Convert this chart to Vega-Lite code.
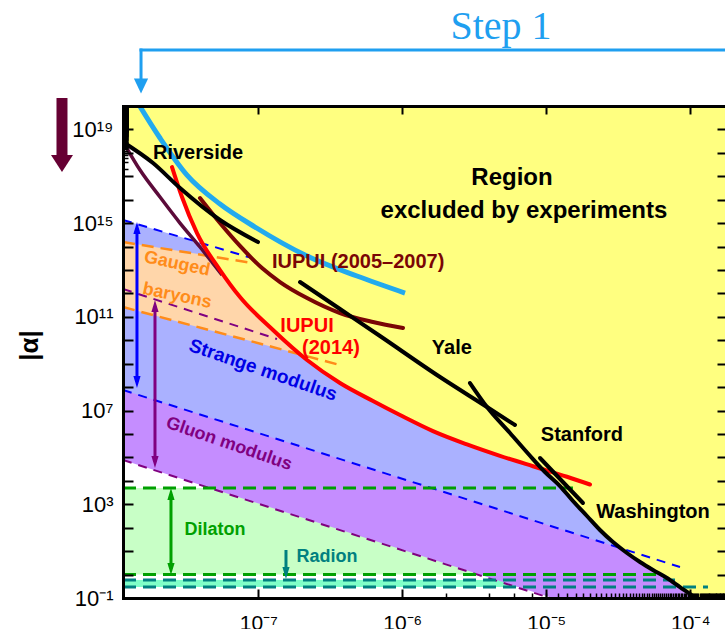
{
  "$schema": "https://vega.github.io/schema/vega-lite/v6.json",
  "width": 604,
  "height": 492,
  "autosize": {"type": "none"},
  "padding": {"left": 123, "top": 106, "right": 0, "bottom": 31},
  "background": "white",
  "config": {"view": {"stroke": null}, "axis": {"grid": false}},
  "datasets": {
    "green": [{"x": 1.15e-8, "y": 1, "y2": 4950}, {"x": 1.8e-4, "y": 1, "y2": 4950}],
    "teal": [{"x": 1.15e-8, "y": 0.294, "y2": 0.586}, {"x": 1.8e-4, "y": 0.294, "y2": 0.586}],
    "purple": [{"x": 1.15e-8, "y": 7.76e4, "y2": 1.54e12}, {"x": 1.8e-4, "y": 4.07e-4, "y2": 5740}],
    "blue": [{"x": 1.15e-8, "y": 7.54e7, "y2": 1.36e15}, {"x": 1.8e-4, "y": 0.482, "y2": 3.44e7}],
    "orange": [{"x": 1.15e-8, "y": 2.63e11, "y2": 1.56e14}, {"x": 9.645e-7, "y": 1.83e8, "y2": 2.07e12}],
    "yellow": [
      {"x": 1.1e-8, "y": 3.53e18}, {"x": 1.15e-8, "y": 2.9e18}, {"x": 1.858e-8, "y": 3.68e17},
      {"x": 2.815e-8, "y": 3.48e16}, {"x": 2.954e-8, "y": 1.44e16}, {"x": 3.754e-8, "y": 3.79e14},
      {"x": 5.423e-8, "y": 9.98e12}, {"x": 7.466e-8, "y": 7.03e11}, {"x": 1.266e-7, "y": 2.74e10},
      {"x": 2.181e-7, "y": 1.44e9}, {"x": 3.694e-7, "y": 1.5e8}, {"x": 6.261e-7, "y": 2.56e7},
      {"x": 9.645e-7, "y": 6.46e6}, {"x": 1.634e-6, "y": 1.33e6}, {"x": 2.815e-6, "y": 3.6e5},
      {"x": 4.772e-6, "y": 1.17e5}, {"x": 8.089e-6, "y": 4.2e4}, {"x": 9.048e-6, "y": 3.6e4},
      {"x": 9.799e-6, "y": 2.39e4}, {"x": 1.246e-5, "y": 6030}, {"x": 1.533e-5, "y": 1380},
      {"x": 1.918e-5, "y": 316}, {"x": 2.361e-5, "y": 79.8}, {"x": 2.907e-5, "y": 24.5},
      {"x": 3.636e-5, "y": 8.33}, {"x": 4.477e-5, "y": 3.44}, {"x": 5.51e-5, "y": 1.57},
      {"x": 6.893e-5, "y": 0.714}, {"x": 8.488e-5, "y": 0.294}, {"x": 1.045e-4, "y": 0.122},
      {"x": 1.168e-4, "y": 0.0745}, {"x": 2.0e-4, "y": 0.07}
    ],
    "purpledash": [
      {"id": "top", "x": 1.15e-8, "y": 1.54e12}, {"id": "top", "x": 1.349e-7, "y": 1.13e10},
      {"id": "bot", "x": 1.15e-8, "y": 7.76e4}, {"id": "bot", "x": 1.062e-5, "y": 0.1}
    ],
    "orangedash": [
      {"id": "top", "x": 1.15e-8, "y": 1.56e14}, {"id": "top", "x": 9.048e-8, "y": 1.99e13},
      {"id": "bot", "x": 1.15e-8, "y": 2.63e11}, {"id": "bot", "x": 3.694e-7, "y": 8.79e8}
    ],
    "bluedash": [
      {"id": "top", "x": 1.15e-8, "y": 1.36e15}, {"id": "top", "x": 9.048e-8, "y": 3.24e13},
      {"id": "bot", "x": 1.15e-8, "y": 7.54e7}, {"id": "bot", "x": 8.488e-5, "y": 2.1}
    ],
    "greendash": [
      {"id": "top", "x": 1.15e-8, "y": 4950}, {"id": "top", "x": 1.533e-5, "y": 4950},
      {"id": "bot", "x": 1.15e-8, "y": 1}, {"id": "bot", "x": 6.465e-5, "y": 1}
    ],
    "tealdash": [
      {"id": "top", "x": 1.15e-8, "y": 0.586}, {"id": "top", "x": 7.834e-5, "y": 0.586},
      {"id": "bot", "x": 1.15e-8, "y": 0.294}, {"id": "bot", "x": 1.328e-4, "y": 0.294}
    ],
    "maroon": [
      {"x": 1.187e-8, "y": 2.16e18}, {"x": 1.51e-8, "y": 1.85e17}, {"x": 2.078e-8, "y": 1.3e16},
      {"x": 2.861e-8, "y": 1.01e15}, {"x": 3.938e-8, "y": 9.57e13}, {"x": 5.6e-8, "y": 6.11e12}
    ],
    "cyan": [
      {"x": 1.286e-8, "y": 4.8e20}, {"x": 2.078e-8, "y": 4.3e18}, {"x": 3.2e-8, "y": 1.13e17},
      {"x": 5.423e-8, "y": 6.55e15}, {"x": 9.493e-8, "y": 6.83e14}, {"x": 2.181e-7, "y": 3.95e13},
      {"x": 4.849e-7, "y": 5.53e12}, {"x": 1.045e-6, "y": 1.04e12}
    ],
    "darkred": [
      {"x": 3.938e-8, "y": 1.18e16}, {"x": 5.423e-8, "y": 1.01e15}, {"x": 7.466e-8, "y": 1.06e14},
      {"x": 1.062e-7, "y": 1.21e13}, {"x": 1.416e-7, "y": 3.07e12}, {"x": 2.181e-7, "y": 6.37e11},
      {"x": 3.694e-7, "y": 1.46e11}, {"x": 6.261e-7, "y": 6.03e10}, {"x": 1.012e-6, "y": 3.34e10}
    ],
    "red": [
      {"x": 2.518e-8, "y": 2.48e17}, {"x": 2.954e-8, "y": 1.3e16}, {"x": 3.754e-8, "y": 3.79e14},
      {"x": 5.423e-8, "y": 9.98e12}, {"x": 7.466e-8, "y": 7.03e11}, {"x": 1.266e-7, "y": 2.74e10},
      {"x": 2.181e-7, "y": 1.44e9}, {"x": 3.694e-7, "y": 1.5e8}, {"x": 6.261e-7, "y": 2.56e7},
      {"x": 9.645e-7, "y": 6.46e6}, {"x": 1.634e-6, "y": 1.33e6}, {"x": 2.815e-6, "y": 3.6e5},
      {"x": 4.772e-6, "y": 1.17e5}, {"x": 8.089e-6, "y": 4.2e4}, {"x": 1.393e-5, "y": 1.5e4},
      {"x": 2.012e-5, "y": 7000}
    ],
    "black": [
      {"id": "Riverside", "x": 1.15e-8, "y": 2.9e18}, {"id": "Riverside", "x": 1.858e-8, "y": 3.68e17},
      {"id": "Riverside", "x": 2.861e-8, "y": 3.15e16}, {"id": "Riverside", "x": 5.423e-8, "y": 1.36e15},
      {"id": "Riverside", "x": 9.959e-8, "y": 1.56e14},
      {"id": "Yale", "x": 1.95e-7, "y": 3.07e12}, {"id": "Yale", "x": 3.694e-7, "y": 2.16e11},
      {"id": "Yale", "x": 7.004e-7, "y": 1.52e10}, {"id": "Yale", "x": 1.829e-6, "y": 2.7e8},
      {"id": "Yale", "x": 3.878e-6, "y": 1.42e7}, {"id": "Yale", "x": 6.065e-6, "y": 2.42e6},
      {"id": "Washington", "x": 2.954e-6, "y": 1.5e8}, {"id": "Washington", "x": 3.878e-6, "y": 1.42e7},
      {"id": "Washington", "x": 5.6e-6, "y": 1.1e6}, {"id": "Washington", "x": 8.089e-6, "y": 8.5e4},
      {"id": "Washington", "x": 9.799e-6, "y": 2.39e4}, {"id": "Washington", "x": 1.246e-5, "y": 6030},
      {"id": "Washington", "x": 1.533e-5, "y": 1380}, {"id": "Washington", "x": 1.918e-5, "y": 316},
      {"id": "Washington", "x": 2.361e-5, "y": 79.8}, {"id": "Washington", "x": 2.907e-5, "y": 24.5},
      {"id": "Washington", "x": 3.636e-5, "y": 8.33}, {"id": "Washington", "x": 4.477e-5, "y": 3.44},
      {"id": "Washington", "x": 5.51e-5, "y": 1.57}, {"id": "Washington", "x": 6.893e-5, "y": 0.714},
      {"id": "Washington", "x": 8.488e-5, "y": 0.294}, {"id": "Washington", "x": 1.045e-4, "y": 0.122},
      {"id": "Washington", "x": 1.168e-4, "y": 0.0745},
      {"id": "Stanford", "x": 9.048e-6, "y": 9.45e4}, {"id": "Stanford", "x": 1.799e-5, "y": 1135}
    ],
    "arrows": [
      {"id": "blue", "x": 1.438e-8, "y": 6.19e14, "y2": 1.66e8},
      {"id": "purple", "x": 1.918e-8, "y": 2.9e11, "y2": 6.37e4},
      {"id": "green", "x": 2.477e-8, "y": 2750, "y2": 1.73},
      {"id": "teal", "x": 1.558e-7, "y": 11.2, "y2": 1.17}
    ],
    "heads": [
      {"id": "blue", "dir": "up", "x": 1.438e-8, "y": 6.19e14},
      {"id": "blue", "dir": "down", "x": 1.438e-8, "y": 1.66e8},
      {"id": "purple", "dir": "up", "x": 1.918e-8, "y": 2.9e11},
      {"id": "purple", "dir": "down", "x": 1.918e-8, "y": 6.37e4},
      {"id": "green", "dir": "up", "x": 2.477e-8, "y": 2750},
      {"id": "green", "dir": "down", "x": 2.477e-8, "y": 1.73},
      {"id": "teal", "dir": "down", "x": 1.558e-7, "y": 1.17}
    ],
    "bigarrow": [{"x": 4.335e-9, "y": 2.19e20, "y2": 7.33e17}],
    "bighead": [{"x": 4.335e-9, "y": 3.51e17}],
    "steph": [{"x": 1.534e-8, "x2": 2.0e-4, "y": 2.45e22}],
    "stepv": [{"x": 1.534e-8, "y": 2.45e22, "y2": 1.28e21}],
    "stephead": [{"x": 1.534e-8, "y": 7.11e20}],
    "lab_black": [
      {"t": "Riverside", "x": 3.816e-8, "y": 9.8e17},
      {"t": "Yale", "x": 2.21e-6, "y": 4.68e9},
      {"t": "Stanford", "x": 1.77e-5, "y": 9.06e5},
      {"t": "Washington", "x": 5.51e-5, "y": 468}
    ],
    "lab_region": [
      {"t": "Region", "x": 5.78e-6, "y": 8.43e16},
      {"t": "excluded by experiments", "x": 7.0e-6, "y": 3.29e15}
    ],
    "lab_old": [{"t": "IUPUI (2005–2007)", "x": 1.246e-7, "y": 2.19e13}],
    "lab_new": [
      {"t": "IUPUI", "x": 2.181e-7, "y": 4.07e10},
      {"t": "(2014)", "x": 3.2e-7, "y": 4.68e9}
    ],
    "lab_gauged": [
      {"t": "Gauged", "x": 2.73e-8, "y": 1.8e13},
      {"t": "baryons", "x": 2.73e-8, "y": 7.75e11}
    ],
    "lab_strange": [{"t": "Strange modulus", "x": 1.079e-7, "y": 5.38e8}],
    "lab_gluon": [{"t": "Gluon modulus", "x": 6.26e-8, "y": 3.74e5}],
    "lab_dilaton": [{"t": "Dilaton", "x": 5.01e-8, "y": 79.8}],
    "lab_radion": [{"t": "Radion", "x": 3.0e-7, "y": 5.62}],
    "lab_step": [{"t": "Step 1", "x": 4.85e-6, "y": 7.21e22}]
  },
  "encoding": {
    "x": {"field": "x", "type": "quantitative", "scale": {"type": "log", "domain": [1.15e-8, 1.8e-4], "nice": false}, "axis": null},
    "y": {"field": "y", "type": "quantitative", "scale": {"type": "log", "domain": [0.1, 1e20], "nice": false}, "axis": null}
  },
  "layer": [
    {
      "data": {"name": "green"},
      "mark": {"type": "area", "color": "#c8ffc6", "clip": true},
      "encoding": {
        "x": {"field": "x", "type": "quantitative", "scale": {"type": "log", "domain": [1.15e-8, 1.8e-4], "nice": false},
          "axis": {"orient": "bottom", "values": [1e-7, 1e-6, 1e-5, 1e-4], "domain": true, "domainColor": "black", "domainWidth": 3, "domainCap": "square",
            "ticks": true, "tickSize": -9, "tickWidth": 2, "tickColor": "black", "grid": false,
            "labelExpr": "round(log(datum.value)/LN10) == -7 ? '10⁻⁷' : round(log(datum.value)/LN10) == -6 ? '10⁻⁶' : round(log(datum.value)/LN10) == -5 ? '10⁻⁵' : '10⁻⁴'",
            "labelFont": "Liberation Sans", "labelFontSize": 21, "labelColor": "black", "labelPadding": 23, "labelFlush": false, "labelOverlap": false, "labelBaseline": "top",
            "title": null, "zindex": 1}},
        "y": {"field": "y", "type": "quantitative", "scale": {"type": "log", "domain": [0.1, 1e20], "nice": false},
          "axis": {"orient": "left", "values": [0.1, 1, 10, 100, 1000, 1e4, 1e5, 1e6, 1e7, 1e8, 1e9, 1e10, 1e11, 1e12, 1e13, 1e14, 1e15, 1e16, 1e17, 1e18, 1e19],
            "domain": true, "domainColor": "black", "domainWidth": 3, "domainCap": "square",
            "ticks": true, "tickSize": -10, "tickWidth": 2, "tickColor": "black", "grid": false,
            "labelExpr": "round(log(datum.value)/LN10) == 19 ? '10¹⁹' : round(log(datum.value)/LN10) == 15 ? '10¹⁵' : round(log(datum.value)/LN10) == 11 ? '10¹¹' : round(log(datum.value)/LN10) == 7 ? '10⁷' : round(log(datum.value)/LN10) == 3 ? '10³' : round(log(datum.value)/LN10) == -1 ? '10⁻¹' : ''",
            "labelFont": "Liberation Sans", "labelFontSize": 22, "labelColor": "black", "labelPadding": 20, "labelFlush": false, "labelOverlap": false, "labelAlign": "right", "labelBaseline": "middle",
            "title": "|α|", "titleFont": "Liberation Sans", "titleFontSize": 26, "titleFontWeight": "bold", "titleColor": "black",
            "titleX": -94, "titleY": 239, "titleAlign": "center", "titleBaseline": "middle", "zindex": 1}},
        "y2": {"field": "y2"}
      }
    },
    {
      "data": {"name": "teal"},
      "mark": {"type": "area", "color": "#80ffc8", "clip": true},
      "encoding": {
        "x": {"field": "x", "type": "quantitative", "scale": {"type": "log", "domain": [1.15e-8, 1.8e-4], "nice": false},
          "axis": {"orient": "bottom", "tickCount": 100, "domain": false, "labels": false, "ticks": true, "tickSize": -5, "tickWidth": 1.5, "tickColor": "black", "grid": false, "title": null, "zindex": 1}},
        "y": {"field": "y", "type": "quantitative", "scale": {"type": "log", "domain": [0.1, 1e20], "nice": false},
          "axis": {"orient": "left", "tickCount": 400, "domain": false, "labels": false, "ticks": true, "tickSize": -5, "tickWidth": 1.5, "tickColor": "black", "grid": false, "title": null, "zindex": 1}},
        "y2": {"field": "y2"}
      }
    },
    {
      "data": {"name": "purple"},
      "mark": {"type": "area", "color": "#c58dff", "clip": true},
      "encoding": {
        "x": {"field": "x", "type": "quantitative", "scale": {"type": "log", "domain": [1.15e-8, 1.8e-4], "nice": false},
          "axis": {"orient": "top", "values": [1e-7, 1e-6, 1e-5, 1e-4], "domain": true, "domainColor": "black", "domainWidth": 3, "domainCap": "square", "labels": false, "ticks": true, "tickSize": -8, "tickWidth": 2, "tickColor": "black", "grid": false, "title": null, "zindex": 1}},
        "y": {"field": "y", "type": "quantitative", "scale": {"type": "log", "domain": [0.1, 1e20], "nice": false},
          "axis": {"orient": "right", "values": [1, 10, 100, 1000, 1e4, 1e5, 1e6, 1e7, 1e8, 1e9, 1e10, 1e11, 1e12, 1e13, 1e14, 1e15, 1e16, 1e17, 1e18, 1e19], "domain": true, "domainColor": "black", "domainWidth": 3, "labels": false, "ticks": true, "tickSize": -10, "tickWidth": 2, "tickColor": "black", "grid": false, "title": null, "zindex": 1}},
        "y2": {"field": "y2"}
      }
    },
    {"data": {"name": "blue"}, "mark": {"type": "area", "color": "#aab1ff", "clip": true}, "encoding": {"y2": {"field": "y2"}}},
    {"data": {"name": "orange"}, "mark": {"type": "area", "color": "#ffd6aa", "clip": true}, "encoding": {"y2": {"field": "y2"}}},
    {"data": {"name": "yellow"}, "mark": {"type": "area", "color": "#ffff80", "clip": true, "interpolate": "monotone"}, "encoding": {"y2": {"datum": 1e20}}},
    {"data": {"name": "purpledash"}, "mark": {"type": "line", "color": "#800080", "strokeWidth": 2, "strokeDash": [9, 7], "clip": true}, "encoding": {"detail": {"field": "id"}}},
    {"data": {"name": "orangedash"}, "mark": {"type": "line", "color": "#ff8c1a", "strokeWidth": 2.5, "strokeDash": [12, 7], "clip": true}, "encoding": {"detail": {"field": "id"}}},
    {"data": {"name": "bluedash"}, "mark": {"type": "line", "color": "#0000ff", "strokeWidth": 2, "strokeDash": [9, 7], "clip": true}, "encoding": {"detail": {"field": "id"}}},
    {"data": {"name": "greendash"}, "mark": {"type": "line", "color": "#00a000", "strokeWidth": 3, "strokeDash": [13, 7], "clip": true}, "encoding": {"detail": {"field": "id"}}},
    {"data": {"name": "tealdash"}, "mark": {"type": "line", "color": "#008080", "strokeWidth": 3, "strokeDash": [13, 7], "clip": true}, "encoding": {"detail": {"field": "id"}}},
    {"data": {"name": "maroon"}, "mark": {"type": "line", "color": "#5c0b3a", "strokeWidth": 3.5, "interpolate": "monotone", "clip": true}, "encoding": {}},
    {"data": {"name": "cyan"}, "mark": {"type": "line", "color": "#22aaee", "strokeWidth": 5, "interpolate": "monotone", "clip": true}, "encoding": {}},
    {"data": {"name": "darkred"}, "mark": {"type": "line", "color": "#7a0505", "strokeWidth": 4, "interpolate": "monotone", "clip": true, "strokeCap": "round"}, "encoding": {}},
    {"data": {"name": "red"}, "mark": {"type": "line", "color": "#ff0000", "strokeWidth": 4, "interpolate": "monotone", "clip": true, "strokeCap": "round"}, "encoding": {}},
    {"data": {"name": "black"}, "mark": {"type": "line", "color": "black", "strokeWidth": 4, "interpolate": "monotone", "clip": true, "strokeCap": "round"}, "encoding": {"detail": {"field": "id"}}},
    {
      "data": {"name": "arrows"},
      "mark": {"type": "rule", "strokeWidth": 3},
      "encoding": {
        "y2": {"field": "y2"},
        "color": {"field": "id", "type": "nominal", "scale": {"domain": ["blue", "purple", "green", "teal"], "range": ["#0000ff", "#800080", "#00a000", "#008080"]}, "legend": null}
      }
    },
    {
      "data": {"name": "heads"},
      "mark": {"type": "point", "filled": true, "opacity": 1, "size": 144, "strokeWidth": 0},
      "encoding": {
        "color": {"field": "id", "type": "nominal", "scale": {"domain": ["blue", "purple", "green", "teal"], "range": ["#0000ff", "#800080", "#00a000", "#008080"]}, "legend": null},
        "shape": {"field": "dir", "type": "nominal", "scale": {"domain": ["up", "down"], "range": ["M0,-1L0.6,1L-0.6,1Z", "M0,1L0.6,-1L-0.6,-1Z"]}, "legend": null}
      }
    },
    {"data": {"name": "bigarrow"}, "mark": {"type": "rule", "color": "#660033", "strokeWidth": 11}, "encoding": {"y2": {"field": "y2"}}},
    {"data": {"name": "bighead"}, "mark": {"type": "point", "filled": true, "opacity": 1, "color": "#660033", "size": 484, "strokeWidth": 0, "shape": "M0,0.77L1,-0.77L-1,-0.77Z"}, "encoding": {}},
    {"data": {"name": "steph"}, "mark": {"type": "rule", "color": "#1f9ff0", "strokeWidth": 3, "strokeCap": "square"}, "encoding": {"x2": {"field": "x2"}}},
    {"data": {"name": "stepv"}, "mark": {"type": "rule", "color": "#1f9ff0", "strokeWidth": 3, "strokeCap": "square"}, "encoding": {"y2": {"field": "y2"}}},
    {"data": {"name": "stephead"}, "mark": {"type": "point", "filled": true, "opacity": 1, "color": "#1f9ff0", "size": 225, "strokeWidth": 0, "shape": "M0,1L0.95,-1L-0.95,-1Z"}, "encoding": {}},
    {"data": {"name": "lab_black"}, "mark": {"type": "text", "font": "Liberation Sans", "fontWeight": "bold", "fontSize": 20, "color": "black", "align": "center", "baseline": "middle"}, "encoding": {"text": {"field": "t"}}},
    {"data": {"name": "lab_region"}, "mark": {"type": "text", "font": "Liberation Sans", "fontWeight": "bold", "fontSize": 24, "color": "black", "align": "center", "baseline": "middle"}, "encoding": {"text": {"field": "t"}}},
    {"data": {"name": "lab_old"}, "mark": {"type": "text", "font": "Liberation Sans", "fontWeight": "bold", "fontSize": 20, "color": "#7a0505", "align": "left", "baseline": "middle"}, "encoding": {"text": {"field": "t"}}},
    {"data": {"name": "lab_new"}, "mark": {"type": "text", "font": "Liberation Sans", "fontWeight": "bold", "fontSize": 20, "color": "#ff0000", "align": "center", "baseline": "middle"}, "encoding": {"text": {"field": "t"}}},
    {"data": {"name": "lab_gauged"}, "mark": {"type": "text", "font": "Liberation Sans", "fontWeight": "bold", "fontSize": 18, "color": "#ff8c1a", "align": "center", "baseline": "middle", "angle": 12}, "encoding": {"text": {"field": "t"}}},
    {"data": {"name": "lab_strange"}, "mark": {"type": "text", "font": "Liberation Sans", "fontWeight": "bold", "fontSize": 19, "color": "#0000e6", "align": "center", "baseline": "middle", "angle": 19}, "encoding": {"text": {"field": "t"}}},
    {"data": {"name": "lab_gluon"}, "mark": {"type": "text", "font": "Liberation Sans", "fontWeight": "bold", "fontSize": 18, "color": "#800080", "align": "center", "baseline": "middle", "angle": 19}, "encoding": {"text": {"field": "t"}}},
    {"data": {"name": "lab_dilaton"}, "mark": {"type": "text", "font": "Liberation Sans", "fontWeight": "bold", "fontSize": 18, "color": "#00a000", "align": "center", "baseline": "middle"}, "encoding": {"text": {"field": "t"}}},
    {"data": {"name": "lab_radion"}, "mark": {"type": "text", "font": "Liberation Sans", "fontWeight": "bold", "fontSize": 18, "color": "#008080", "align": "center", "baseline": "middle"}, "encoding": {"text": {"field": "t"}}},
    {"data": {"name": "lab_step"}, "mark": {"type": "text", "font": "Liberation Serif", "fontSize": 40, "color": "#1f9ff0", "align": "center", "baseline": "alphabetic"}, "encoding": {"text": {"field": "t"}}}
  ],
  "resolve": {"axis": {"x": "independent", "y": "independent"}}
}
